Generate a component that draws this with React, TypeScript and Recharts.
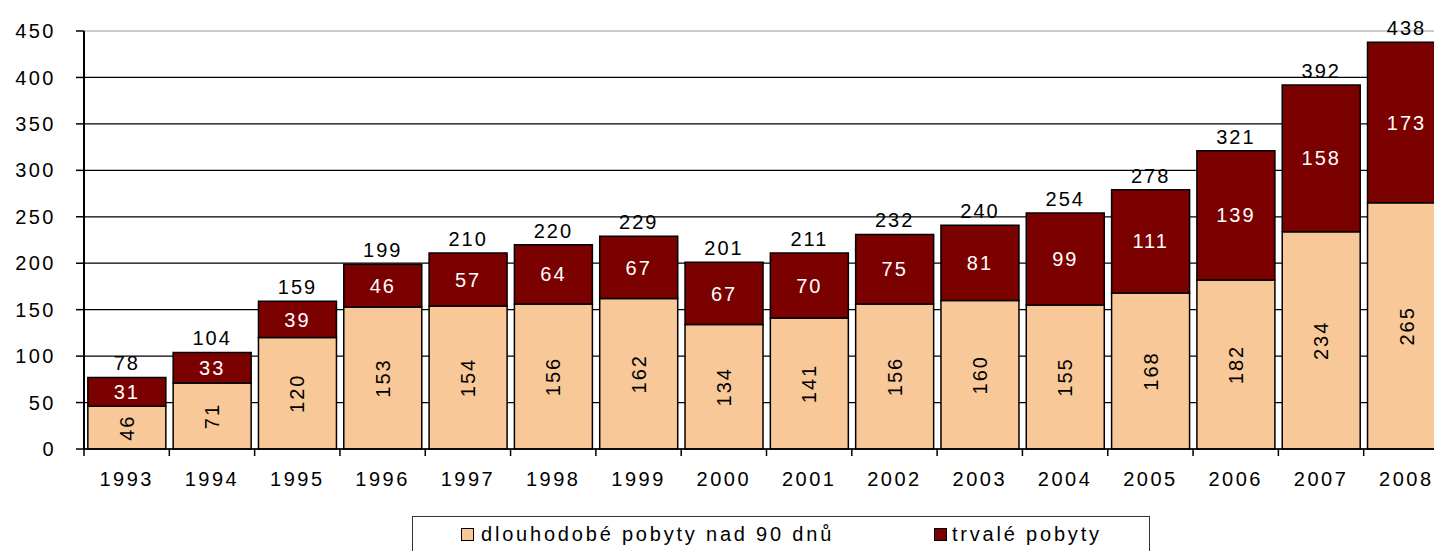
import React from 'react';
import {
  BarChart,
  Bar,
  XAxis,
  YAxis,
  CartesianGrid,
  Legend,
  LabelList,
} from 'recharts';

const years = ['1993', '1994', '1995', '1996', '1997', '1998', '1999', '2000', '2001', '2002', '2003', '2004', '2005', '2006', '2007', '2008'];
const longTerm = [46, 71, 120, 153, 154, 156, 162, 134, 141, 156, 160, 155, 168, 182, 234, 265];
const permanent = [31, 33, 39, 46, 57, 64, 67, 67, 70, 75, 81, 99, 111, 139, 158, 173];
const totals = [78, 104, 159, 199, 210, 220, 229, 201, 211, 232, 240, 254, 278, 321, 392, 438];
const yTicks = [0, 50, 100, 150, 200, 250, 300, 350, 400, 450];

const LONG_LABEL = 'dlouhodobé pobyty nad 90 dnů';
const PERM_LABEL = 'trvalé pobyty';

const PEACH = '#F8C898';
const MAROON = '#7B0000';
const FONT = '"Liberation Sans", Arial, sans-serif';

const data = years.map((year, i) => ({
  year,
  longTerm: longTerm[i],
  permanent: permanent[i],
  total: totals[i],
}));

const CHART_W = 1441;
const CHART_H = 543;
const TOP = 23;
const Y_AXIS_W = 76;
const BAND = (CHART_W - Y_AXIS_W) / years.length;

const XTick = (props: any) => {
  const { x, y, payload } = props;
  const axisY = y - 23;
  const left = x - BAND / 2;
  return (
    <g>
      <line x1={left} y1={axisY} x2={left} y2={axisY + 7} stroke="#000" strokeWidth={1.5} />
      <text
        x={x}
        y={y}
        dy="0.71em"
        textAnchor="middle"
        fill="#000"
        fontSize={20}
        fontFamily={FONT}
        letterSpacing={2.5}
      >
        {payload.value}
      </text>
    </g>
  );
};

// top gridline is lighter, like the original
const GridLine = (p: any) => (
  <line
    x1={p.x1}
    y1={p.y1}
    x2={p.x2}
    y2={p.y2}
    stroke={p.y1 <= TOP + 1 ? '#999' : '#000'}
    strokeWidth={1.2}
  />
);

const RotatedLabel = (props: any) => {
  const { x, y, width, height, value } = props;
  const cx = x + width / 2;
  const cy = y + height / 2;
  return (
    <text
      x={cx}
      y={cy}
      transform={`rotate(-90 ${cx} ${cy})`}
      textAnchor="middle"
      dominantBaseline="central"
      fill="#000"
      fontSize={20}
      fontFamily={FONT}
      letterSpacing={2}
    >
      {value}
    </text>
  );
};

const LegendBox = () => (
  <div
    style={{
      height: 34,
      borderTop: '1.5px solid #333',
      borderLeft: '1.5px solid #333',
      borderRight: '1.5px solid #333',
      position: 'relative',
      fontFamily: FONT,
      fontSize: 20,
      letterSpacing: 2.8,
      color: '#000',
    }}
  >
    <div style={{ position: 'absolute', left: 48, top: 6, display: 'flex', alignItems: 'center' }}>
      <span style={{ width: 11, height: 11, background: PEACH, border: '1.5px solid #000', marginRight: 7 }} />
      <span>{LONG_LABEL}</span>
    </div>
    <div style={{ position: 'absolute', left: 521, top: 6, display: 'flex', alignItems: 'center' }}>
      <span style={{ width: 11, height: 11, background: MAROON, border: '1.5px solid #000', marginRight: 5 }} />
      <span>{PERM_LABEL}</span>
    </div>
  </div>
);

const App: React.FC = () => {
  return (
    <div style={{ width: 1434, height: CHART_H, overflow: 'hidden' }}>
      <BarChart
        width={CHART_W}
        height={CHART_H}
        data={data}
        margin={{ top: TOP, right: 0, bottom: 0, left: 0 }}
        barCategoryGap="4.5%"
      >
        <CartesianGrid vertical={false} horizontal={GridLine} stroke="#000" strokeWidth={1.2} />
        <XAxis
          dataKey="year"
          tickLine={false}
          tickSize={0}
          tickMargin={23}
          height={67}
          axisLine={{ stroke: '#000', strokeWidth: 1.5 }}
          tick={<XTick />}
          interval={0}
        />
        <YAxis
          width={Y_AXIS_W}
          domain={[0, 450]}
          ticks={yTicks}
          tickSize={8}
          tickMargin={20}
          axisLine={{ stroke: '#000', strokeWidth: 2 }}
          tickLine={{ stroke: '#000', strokeWidth: 1.5 }}
          tick={{ fill: '#000', fontSize: 20, fontFamily: FONT, letterSpacing: 2.5 }}
        />
        <Legend
          verticalAlign="bottom"
          content={<LegendBox />}
          wrapperStyle={{ left: 404, width: 738, bottom: 0 }}
        />
        <Bar
          dataKey="longTerm"
          stackId="a"
          fill={PEACH}
          stroke="#000"
          strokeWidth={1.5}
          isAnimationActive={false}
          name={LONG_LABEL}
        >
          <LabelList dataKey="longTerm" content={<RotatedLabel />} />
        </Bar>
        <Bar
          dataKey="permanent"
          stackId="a"
          fill={MAROON}
          stroke="#000"
          strokeWidth={1.5}
          isAnimationActive={false}
          name={PERM_LABEL}
        >
          <LabelList
            dataKey="permanent"
            position="center"
            fill="#fff"
            fontSize={20}
            fontFamily={FONT}
            letterSpacing={2}
          />
          <LabelList
            dataKey="total"
            position="top"
            offset={7}
            fill="#000"
            fontSize={20}
            fontFamily={FONT}
            letterSpacing={2}
          />
        </Bar>
      </BarChart>
    </div>
  );
};

export default App;
